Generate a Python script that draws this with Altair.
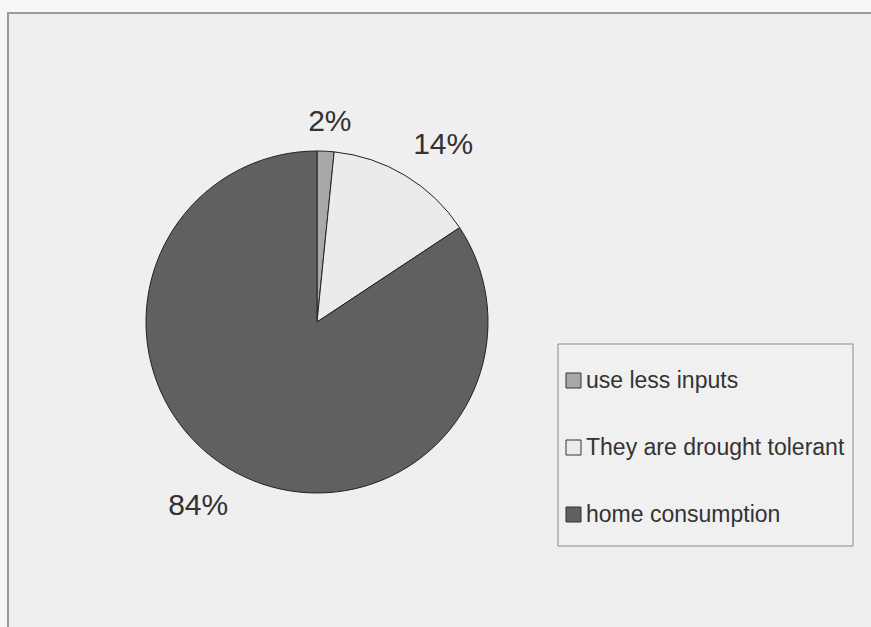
import altair as alt
import pandas as pd

categories = ["use less inputs", "They are drought tolerant", "home consumption"]
shares = [1.6, 14.1, 84.3]
labels = ["2%", "14%", "84%"]
colors = ["#a8a8a8", "#ebebeb", "#606060"]

df = pd.DataFrame({"category": categories, "share": shares, "label": labels,
                   "order": list(range(len(categories)))})
one = pd.DataFrame({"a": [0]})

CX, CY, R = 317, 322, 171
FONT = "Liberation Sans"

frame = alt.Chart(one).mark_rect(fill="#efefef", stroke="#9a9a9a", strokeWidth=2).encode(
    x=alt.value(8), x2=alt.value(900), y=alt.value(13), y2=alt.value(660))

legbox = alt.Chart(one).mark_rect(fill="#f0f0f0", stroke="#8a8a8a", strokeWidth=1).encode(
    x=alt.value(558), x2=alt.value(853), y=alt.value(344), y2=alt.value(546))

color = alt.Color("category:N",
                  scale=alt.Scale(domain=categories, range=colors),
                  sort=categories,
                  legend=alt.Legend(orient="none", legendX=562, legendY=369, title=None,
                                    symbolType="square", symbolSize=225,
                                    symbolStrokeColor="#333333", symbolStrokeWidth=1,
                                    labelFont=FONT, labelFontSize=23, labelColor="#333333",
                                    labelOffset=1, labelLimit=400, rowPadding=43,
                                    padding=0))

pie = alt.Chart(df).mark_arc(outerRadius=R, stroke="#222222", strokeWidth=1).encode(
    theta=alt.Theta("share:Q", stack=True),
    order=alt.Order("order:Q"),
    color=color, x=alt.value(CX), y=alt.value(CY))

lab_base = alt.Chart(df).transform_window(
    cum="sum(share)", sort=[alt.SortField("order")]
).transform_calculate(
    mid="datum.cum - datum.share / 2"
)

offsets = {"use less inputs": (2, 15), "They are drought tolerant": (15, 7),
           "home consumption": (-17, -5)}
texts = []
for cat in categories:
    dx, dy = offsets[cat]
    texts.append(lab_base.transform_filter(alt.datum.category == cat)
                 .mark_text(radius=215, font=FONT, fontSize=30, color="#333333",
                            dx=dx, dy=dy, baseline="middle", align="center")
                 .encode(theta=alt.Theta("mid:Q"),
                         text="label:N", x=alt.value(CX), y=alt.value(CY)))

chart = alt.layer(frame, legbox, pie, *texts).properties(
    width=871, height=627, padding=0, autosize=alt.AutoSizeParams(type="none"),
    background="#f6f6f6"
).configure_view(stroke=None)

chart.save("out.html", embed_options={"renderer": "svg", "actions": False})
